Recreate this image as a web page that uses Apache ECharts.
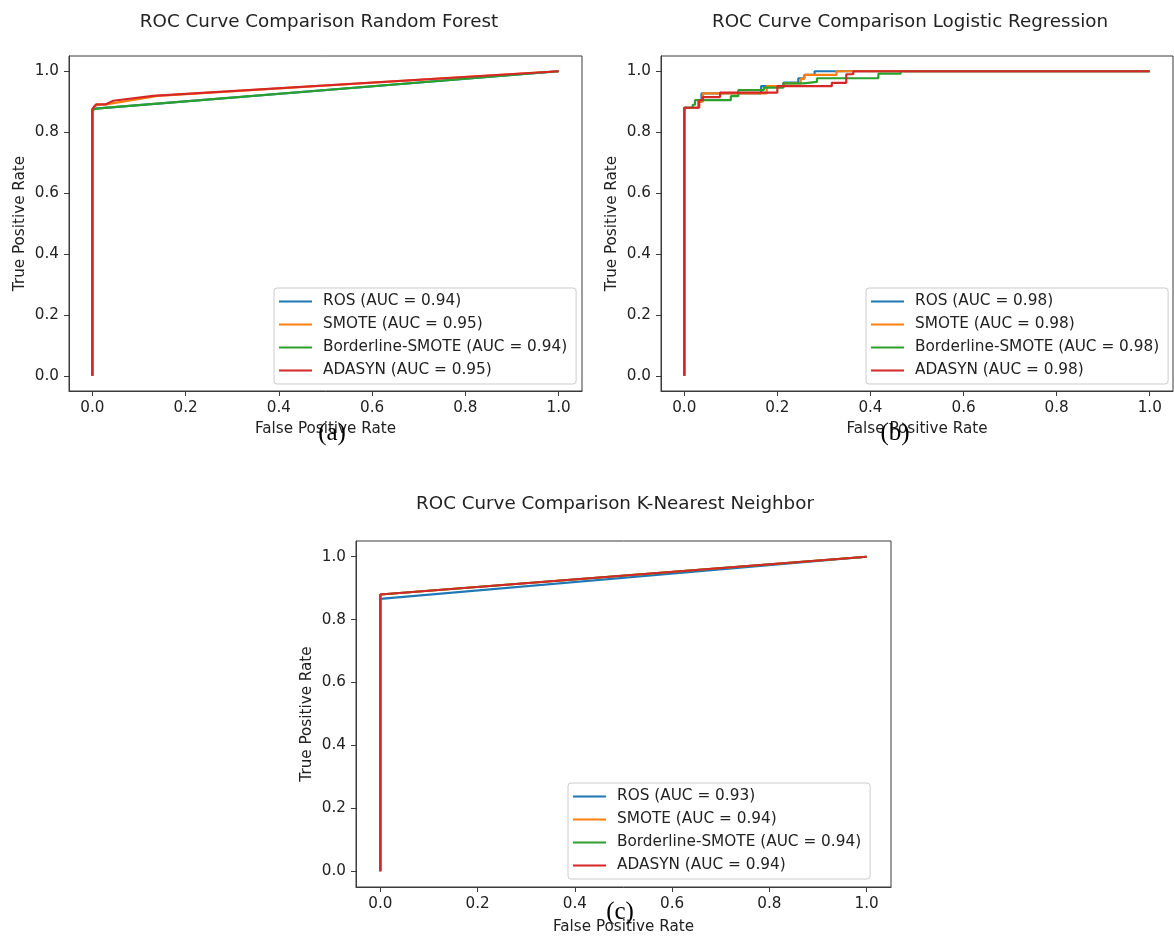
<!DOCTYPE html>
<html><head><meta charset="utf-8">
<script src="https://cdn.jsdelivr.net/npm/echarts@6/dist/echarts.min.js"></script>
<style>html,body{margin:0;padding:0;background:#fff}#c{width:1174px;height:936px}</style>
</head><body><div id="c"></div>
<script>
// ---------- data ----------
const methods = ['ROS', 'SMOTE', 'Borderline-SMOTE', 'ADASYN'];
const tickValues = [0, 0.2, 0.4, 0.6, 0.8, 1.0];

const titleRF = 'ROC Curve Comparison Random Forest';
const titleLR = 'ROC Curve Comparison Logistic Regression';
const titleKNN = 'ROC Curve Comparison K-Nearest Neighbor';

const aucRF = [0.94, 0.95, 0.94, 0.95];
const aucLR = [0.98, 0.98, 0.98, 0.98];
const aucKNN = [0.93, 0.94, 0.94, 0.94];

// Random Forest [fpr, tpr]
const rfROS = [[0,0],[0,0.873],[0.008,0.878],[0.02,0.879],[1,1]];
const rfSMOTE = [[0,0],[0,0.875],[0.006,0.886],[0.012,0.89],[0.03,0.891],[0.14,0.919],[1,1]];
const rfBorder = [[0,0],[0,0.872],[0.005,0.876],[0.02,0.879],[1,1]];
const rfADASYN = [[0,0],[0,0.875],[0.004,0.884],[0.008,0.891],[0.028,0.891],[0.045,0.903],[0.13,0.919],[1,1]];

// Logistic Regression
const lrROS = [[0,0],[0,0.88],[0.03,0.88],[0.03,0.90],[0.037,0.90],[0.037,0.927],[0.165,0.927],[0.165,0.951],[0.213,0.951],[0.213,0.963],[0.245,0.963],[0.245,0.977],[0.258,0.977],[0.258,0.988],[0.28,0.988],[0.28,1.0],[1,1]];
const lrSMOTE = [[0,0],[0,0.88],[0.03,0.88],[0.03,0.90],[0.04,0.90],[0.04,0.927],[0.177,0.927],[0.177,0.951],[0.215,0.951],[0.215,0.96],[0.25,0.96],[0.25,0.975],[0.258,0.975],[0.258,0.988],[0.327,0.988],[0.327,1.0],[1,1]];
const lrBorder = [[0,0],[0,0.88],[0.018,0.88],[0.018,0.89],[0.023,0.89],[0.023,0.905],[0.1,0.905],[0.1,0.918],[0.116,0.918],[0.116,0.938],[0.171,0.938],[0.171,0.946],[0.213,0.946],[0.213,0.96],[0.256,0.96],[0.256,0.965],[0.285,0.965],[0.285,0.977],[0.417,0.977],[0.417,0.992],[0.465,0.992],[0.465,1.0],[1,1]];
const lrADASYN = [[0,0],[0,0.88],[0.032,0.88],[0.032,0.905],[0.04,0.905],[0.04,0.915],[0.077,0.915],[0.077,0.93],[0.2,0.93],[0.2,0.951],[0.317,0.951],[0.317,0.962],[0.348,0.962],[0.348,0.99],[0.363,0.99],[0.363,1.0],[1,1]];

// K-Nearest Neighbor
const knnROS = [[0,0],[0,0.866],[1,1]];
const knnSMOTE = [[0,0],[0,0.88],[1,1]];
const knnBorder = [[0,0],[0,0.88],[1,1]];
const knnADASYN = [[0,0],[0,0.88],[1,1]];

// ---------- styling ----------
const colors = ['#1f77b4', '#ff7f0e', '#2ca02c', '#d62728'];
const FONT = 'DejaVu Sans';
const TXT = '#222222';
const SPINE = '#3a3a3a';

const panels = [
  { title: titleRF, auc: aucRF, data: [rfROS, rfSMOTE, rfBorder, rfADASYN],
    grid: { left: 69, top: 56, width: 513, height: 335 }, titleX: 314, titleY: 19, xGap: 31,
    legend: { left: 274, top: 288 }, tag: '(a)', tagX: 332, tagY: 433 },
  { title: titleLR, auc: aucLR, data: [lrROS, lrSMOTE, lrBorder, lrADASYN],
    grid: { left: 661, top: 56, width: 512, height: 335 }, titleX: 905, titleY: 19, xGap: 31,
    legend: { left: 866, top: 288 }, tag: '(b)', tagX: 895, tagY: 433 },
  { title: titleKNN, auc: aucKNN, data: [knnROS, knnSMOTE, knnBorder, knnADASYN],
    grid: { left: 356, top: 541, width: 535, height: 348 }, titleX: 610, titleY: 501, xGap: 33,
    legend: { left: 568, top: 783 }, tag: '(c)', tagX: 620, tagY: 912 }
];

const option = {
  animation: false,
  backgroundColor: '#ffffff',
  title: [], grid: [], xAxis: [], yAxis: [], legend: [], series: [], graphic: []
};

panels.forEach((p, i) => {
  option.title.push({
    text: p.title, left: p.titleX, top: p.titleY - 11, textAlign: 'center',
    textStyle: { fontFamily: FONT, fontSize: 18.3, fontWeight: 'normal', color: TXT }
  });
  option.grid.push(Object.assign({ show: true, borderColor: SPINE, borderWidth: 1, containLabel: false }, p.grid));
  const axisCommon = {
    type: 'value', min: -0.05, max: 1.05, gridIndex: i,
    splitLine: { show: false },
    axisLine: { show: true, onZero: false, lineStyle: { color: SPINE, width: 1 } },
    axisTick: { show: true, inside: false, length: 5, customValues: tickValues, lineStyle: { color: SPINE } },
    axisLabel: { customValues: tickValues, margin: 10, fontFamily: FONT, fontSize: 15.2, color: TXT,
      formatter: v => v.toFixed(1) },
    nameLocation: 'middle',
    nameTextStyle: { fontFamily: FONT, fontSize: 15.2, color: TXT }
  };
  option.xAxis.push(Object.assign({}, axisCommon, { name: 'False Positive Rate', nameGap: p.xGap }));
  option.yAxis.push(Object.assign({}, axisCommon, { name: 'True Positive Rate', nameGap: 41 }));
  const names = methods.map((m, k) => m + ' (AUC = ' + p.auc[k].toFixed(2) + ')');
  option.legend.push({
    orient: 'vertical', left: p.legend.left, top: p.legend.top,
    padding: [6, 9, 6, 5], itemGap: 8, itemWidth: 33, itemHeight: 2, icon: 'rect',
    borderColor: '#cccccc', borderWidth: 1, borderRadius: 3, backgroundColor: 'rgba(255,255,255,0.85)',
    textStyle: { fontFamily: FONT, fontSize: 15.3, color: TXT, padding: [0, 0, 0, 6] },
    selectedMode: false,
    data: names
  });
  p.data.forEach((d, k) => {
    option.series.push({
      type: 'line', name: names[k], xAxisIndex: i, yAxisIndex: i,
      data: d, showSymbol: false, symbol: 'none',
      color: colors[k],
      lineStyle: { color: colors[k], width: 2.2 },
      z: 2 + k
    });
  });
  option.graphic.push({
    type: 'text', x: p.tagX, y: p.tagY, z: 100,
    style: { text: p.tag, fill: '#000', font: '25px "Liberation Serif"', textAlign: 'center', textVerticalAlign: 'middle' }
  });
});

const chart = echarts.init(document.getElementById('c'), null, { renderer: 'canvas' });
chart.setOption(option);
</script>
</body></html>
